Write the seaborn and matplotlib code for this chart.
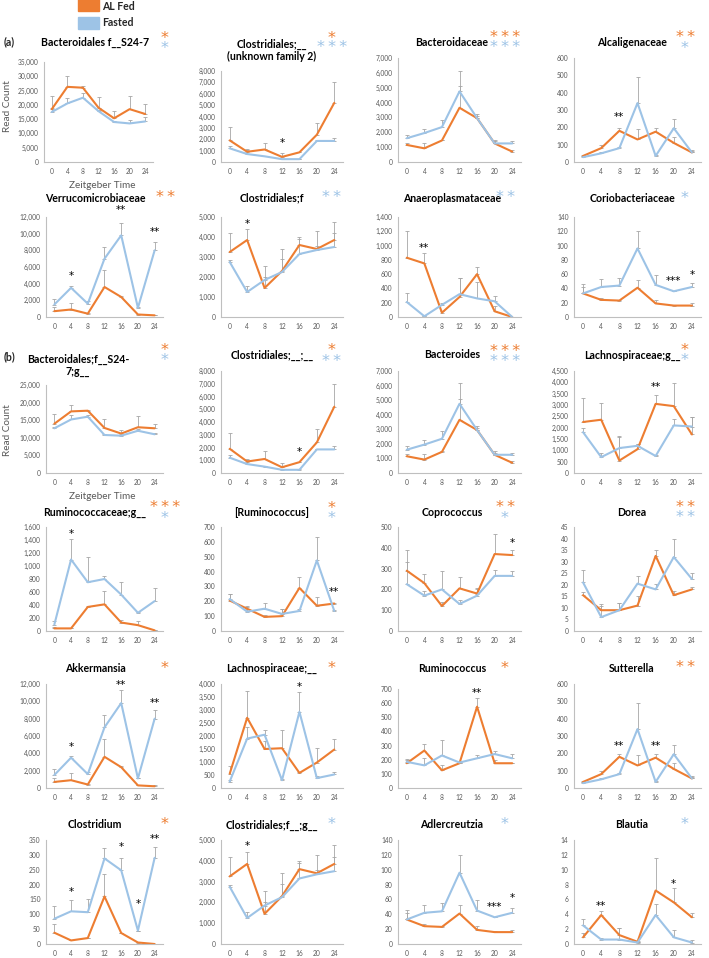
import matplotlib
matplotlib.use("Agg")
import matplotlib.pyplot as plt
from matplotlib.patches import Rectangle
from matplotlib.ticker import FuncFormatter
import pandas as pd
import seaborn as sns

ORANGE = "#ED7D31"
BLUE = "#9DC3E6"
GREY = "#A6A6A6"
TXT = "#595959"

hours = [0, 4, 8, 12, 16, 20, 24]
hour_labels = ["0", "4", "8", "12", "16", "20", "24"]

# Bacteroidales f__S24-7 (family)
s24f_al = [18500, 26300, 26000, 19000, 15300, 18500, 16800]
s24f_al_err = [4500, 3700, 700, 3800, 2700, 4500, 3400]
s24f_fa = [17500, 20500, 22500, 17800, 14000, 13500, 14200]
s24f_fa_err = [1500, 2000, 1800, 500, 300, 1300, 1600]

# Clostridiales unknown family (same as Clostridiales;__;__)
clun_al = [1900, 900, 1100, 450, 850, 2400, 5200]
clun_al_err = [1200, 200, 600, 300, 50, 1050, 1800]
clun_fa = [1200, 700, 500, 250, 250, 1850, 1850]
clun_fa_err = [200, 350, 50, 50, 50, 50, 250]

# Bacteroidaceae / Bacteroides
bac_al = [1150, 920, 1450, 3650, 2950, 1250, 700]
bac_al_err = [150, 380, 50, 1450, 150, 150, 100]
bac_fa = [1600, 1950, 2350, 4750, 2950, 1250, 1250]
bac_fa_err = [250, 300, 500, 1400, 300, 250, 150]

# Alcaligenaceae / Sutterella
alc_al = [35, 80, 180, 130, 175, 110, 55]
alc_al_err = [5, 20, 15, 60, 20, 35, 10]
alc_fa = [28, 50, 80, 340, 35, 195, 55]
alc_fa_err = [5, 5, 5, 150, 5, 55, 15]

# Verrucomicrobiaceae / Akkermansia
ver_al = [700, 900, 400, 3600, 2400, 300, 200]
ver_al_err = [500, 800, 100, 2000, 100, 100, 100]
ver_fa = [1500, 3500, 1600, 7000, 9800, 1100, 8000]
ver_fa_err = [700, 200, 300, 1400, 1500, 100, 1000]

# Clostridiales;f / Clostridiales;f__;g__
clf_al = [3250, 3850, 1450, 2300, 3600, 3400, 3850]
clf_al_err = [950, 550, 1100, 1100, 400, 900, 900]
clf_fa = [2750, 1250, 1850, 2250, 3150, 3350, 3500]
clf_fa_err = [100, 300, 150, 650, 750, 200, 700]

# Anaeroplasmataceae
ana_al = [830, 750, 60, 280, 600, 80, 0]
ana_al_err = [370, 140, 20, 270, 100, 70, 0]
ana_fa = [210, 10, 170, 320, 260, 220, 0]
ana_fa_err = [120, 10, 20, 230, 230, 80, 0]

# Coriobacteriaceae / Adlercreutzia
cor_al = [33, 24, 23, 41, 19, 16, 16]
cor_al_err = [9, 3, 1, 11, 5, 1, 3]
cor_fa = [33, 42, 44, 96, 45, 36, 42]
cor_fa_err = [13, 11, 11, 24, 14, 1, 6]

# Bacteroidales;f__S24-7;g__
s24g_al = [14000, 17500, 17700, 12800, 11200, 13000, 12700]
s24g_al_err = [2800, 1800, 300, 2500, 1000, 3300, 1100]
s24g_fa = [12700, 15200, 16000, 10800, 10600, 12000, 11000]
s24g_fa_err = [500, 1200, 500, 300, 300, 500, 400]

# Lachnospiraceae;g__
lag_al = [2250, 2350, 550, 1050, 3050, 2950, 1700]
lag_al_err = [1050, 750, 1100, 250, 400, 1000, 750]
lag_fa = [1800, 700, 1100, 1200, 750, 2100, 2050]
lag_fa_err = [200, 200, 500, 100, 50, 300, 400]

# Ruminococcaceae;g__
rcg_al = [40, 40, 370, 410, 130, 90, 10]
rcg_al_err = [20, 0, 20, 200, 40, 70, 10]
rcg_fa = [100, 1100, 750, 800, 560, 280, 460]
rcg_fa_err = [50, 320, 390, 40, 200, 20, 200]

# [Ruminococcus]
rub_al = [205, 150, 95, 100, 290, 170, 185]
rub_al_err = [45, 15, 10, 50, 75, 60, 5]
rub_fa = [215, 130, 150, 115, 135, 475, 135]
rub_fa_err = [35, 30, 40, 35, 15, 155, 5]

# Coprococcus
cop_al = [290, 230, 120, 205, 180, 370, 365]
cop_al_err = [100, 45, 20, 55, 25, 95, 25]
cop_fa = [225, 170, 200, 130, 170, 265, 265]
cop_fa_err = [105, 20, 90, 20, 30, 30, 25]

# Dorea
dor_al = [15.5, 9, 9, 11, 32.5, 15.5, 18]
dor_al_err = [1.5, 2.5, 3, 4, 2.5, 2, 1]
dor_fa = [21, 6, 9, 20.5, 18, 32, 22.5]
dor_fa_err = [5.5, 5, 3, 3.5, 2.5, 8, 2.5]

# Lachnospiraceae;__
lan_al = [550, 2700, 1500, 1530, 580, 980, 1480]
lan_al_err = [280, 1050, 300, 720, 50, 570, 420]
lan_fa = [250, 1900, 2050, 300, 2930, 380, 520]
lan_fa_err = [50, 450, 200, 50, 770, 100, 100]

# Ruminococcus
rum_al = [175, 265, 125, 175, 575, 175, 175]
rum_al_err = [25, 45, 35, 10, 60, 25, 5]
rum_fa = [185, 160, 230, 180, 210, 240, 210]
rum_fa_err = [20, 55, 110, 10, 20, 20, 30]

# Clostridium
cld_al = [38, 12, 20, 160, 37, 5, 0]
cld_al_err = [30, 0, 0, 77, 0, 3, 0]
cld_fa = [85, 110, 107, 288, 248, 45, 290]
cld_fa_err = [43, 38, 45, 35, 42, 0, 38]

# Blautia
bla_al = [0.9, 3.9, 1.2, 0.3, 7.2, 5.6, 3.6]
bla_al_err = [0.6, 0.5, 0.9, 0.1, 4.4, 1.9, 0.6]
bla_fa = [2.5, 0.6, 0.6, 0.2, 3.9, 0.9, 0.2]
bla_fa_err = [0.8, 0.2, 1.5, 0.1, 1.5, 1.0, 0.3]

titles = [
    "Bacteroidales f__S24-7", "Clostridiales;__\n(unknown family 2)", "Bacteroidaceae", "Alcaligenaceae",
    "Verrucomicrobiaceae", "Clostridiales;f", "Anaeroplasmataceae", "Coriobacteriaceae",
    "Bacteroidales;f__S24-\n7;g__", "Clostridiales;__;__", "Bacteroides", "Lachnospiraceae;g__",
    "Ruminococcaceae;g__", "[Ruminococcus]", "Coprococcus", "Dorea",
    "Akkermansia", "Lachnospiraceae;__", "Ruminococcus", "Sutterella",
    "Clostridium", "Clostridiales;f__;g__", "Adlercreutzia", "Blautia",
]
series = [
    (s24f_al, s24f_al_err, s24f_fa, s24f_fa_err), (clun_al, clun_al_err, clun_fa, clun_fa_err),
    (bac_al, bac_al_err, bac_fa, bac_fa_err), (alc_al, alc_al_err, alc_fa, alc_fa_err),
    (ver_al, ver_al_err, ver_fa, ver_fa_err), (clf_al, clf_al_err, clf_fa, clf_fa_err),
    (ana_al, ana_al_err, ana_fa, ana_fa_err), (cor_al, cor_al_err, cor_fa, cor_fa_err),
    (s24g_al, s24g_al_err, s24g_fa, s24g_fa_err), (clun_al, clun_al_err, clun_fa, clun_fa_err),
    (bac_al, bac_al_err, bac_fa, bac_fa_err), (lag_al, lag_al_err, lag_fa, lag_fa_err),
    (rcg_al, rcg_al_err, rcg_fa, rcg_fa_err), (rub_al, rub_al_err, rub_fa, rub_fa_err),
    (cop_al, cop_al_err, cop_fa, cop_fa_err), (dor_al, dor_al_err, dor_fa, dor_fa_err),
    (ver_al, ver_al_err, ver_fa, ver_fa_err), (lan_al, lan_al_err, lan_fa, lan_fa_err),
    (rum_al, rum_al_err, rum_fa, rum_fa_err), (alc_al, alc_al_err, alc_fa, alc_fa_err),
    (cld_al, cld_al_err, cld_fa, cld_fa_err), (clf_al, clf_al_err, clf_fa, clf_fa_err),
    (cor_al, cor_al_err, cor_fa, cor_fa_err), (bla_al, bla_al_err, bla_fa, bla_fa_err),
]
y_max = [35000, 8000, 7000, 600, 12000, 5000, 1400, 140,
         25000, 8000, 7000, 4500, 1600, 700, 500, 45,
         12000, 4000, 700, 600, 350, 5000, 140, 14]
y_step = [5000, 1000, 1000, 100, 2000, 1000, 200, 20,
          5000, 1000, 1000, 500, 200, 100, 100, 5,
          2000, 500, 100, 100, 50, 1000, 20, 2]
# significance asterisks beside titles: (orange count, blue count)
title_stars = [(1, 1), (1, 3), (3, 3), (2, 1), (2, 0), (0, 2), (0, 2), (0, 1),
               (1, 1), (1, 2), (3, 3), (1, 1), (3, 1), (1, 1), (2, 1), (2, 2),
               (1, 0), (1, 0), (1, 0), (2, 0), (1, 0), (0, 1), (0, 1), (0, 1)]
# point asterisks: (hour, value, text)
point_marks = [
    [], [(12, 1700, "*")], [], [(8, 262, "**")],
    [(4, 4875, "*"), (16, 12875, "**"), (24, 10250, "**")], [(4, 4660, "*")],
    [(4, 970, "**")], [(20, 51, "***"), (24, 59, "*")],
    [], [(16, 1650, "*")], [], [(16, 3790, "**")],
    [(4, 1490, "*")], [(24, 262, "**")], [(24, 423, "*")], [],
    [(4, 4730, "*"), (16, 11900, "**"), (24, 9800, "**")], [(16, 3900, "*")],
    [(16, 672, "**")], [(8, 242, "**"), (16, 242, "**")],
    [(4, 175, "*"), (16, 326, "*"), (20, 135, "*"), (24, 353, "**")], [(4, 4700, "*")],
    [(20, 50, "***"), (24, 62, "*")], [(4, 5.1, "**"), (20, 8.1, "*")],
]

sns.set_style("white")
plt.rcParams["font.family"] = ["Lato", "DejaVu Sans"]

W, H = 709, 958
fig = plt.figure(figsize=(W / 100, H / 100), dpi=100)


def fx(x):
    return x / W


def fy(y):
    return 1 - y / H


def stars(n):
    return "\u2009".join(["*"] * n)


row_top = [58, 217, 371, 527, 684, 840]
row_bot = [162, 317, 473, 631, 788, 944]
title_y = [42, 198, 355, 512, 668, 825]
col_span = [(46, 163), (221, 343), (398, 521), (574, 701)]
title_x = [95, 272, 452, 632]
star_x = [165, 332, 505, 685]
top_override = {0: 62, 1: 71, 8: 385, 18: 689}
span_override = {0: (44, 153)}
title_pos_override = {1: (272, 50), 8: (78, 365)}

comma = FuncFormatter(lambda v, p: f"{v:,.0f}")

for i in range(24):
    r, c = divmod(i, 4)
    top = top_override.get(i, row_top[r])
    bot = row_bot[r]
    x0, x1 = span_override.get(i, col_span[c])
    ax = fig.add_axes([fx(x0), fy(bot), (x1 - x0) / W, (bot - top) / H])
    al, al_err, fa, fa_err = series[i]

    ax.errorbar(hours, al, yerr=[[0] * 7, al_err], fmt="none", ecolor=GREY,
                elinewidth=0.6, capsize=1.3, capthick=0.6, zorder=1)
    ax.errorbar(hours, fa, yerr=[[0] * 7, fa_err], fmt="none", ecolor=GREY,
                elinewidth=0.6, capsize=1.3, capthick=0.6, zorder=1)
    df = pd.DataFrame({"hour": hours * 2, "count": al + fa,
                       "group": ["AL Fed"] * 7 + ["Fasted"] * 7})
    sns.lineplot(data=df, x="hour", y="count", hue="group", palette=[ORANGE, BLUE],
                 linewidth=1.5, legend=False, ax=ax, zorder=2)

    ax.set_xlim(-2, 26)
    ax.set_ylim(0, y_max[i])
    ax.set_xticks(hours)
    ax.set_xticklabels(hour_labels)
    ax.set_yticks([k * y_step[i] for k in range(int(round(y_max[i] / y_step[i])) + 1)])
    ax.yaxis.set_major_formatter(comma)
    ax.set_xlabel("")
    ax.set_ylabel("")
    ax.tick_params(length=0, labelsize=4.8, colors=TXT)
    ax.tick_params(axis="y", pad=4)
    ax.tick_params(axis="x", pad=4)
    for s in ["top", "right"]:
        ax.spines[s].set_visible(False)
    for s in ["left", "bottom"]:
        ax.spines[s].set_color("#BFBFBF")
        ax.spines[s].set_linewidth(0.8)
    ax.patch.set_alpha(0)

    for h, v, t in point_marks[i]:
        ax.text(h, v, t, ha="center", va="center", fontsize=7.5, color="black",
                family="DejaVu Sans", clip_on=False)

    tx, ty = title_pos_override.get(i, (title_x[c], title_y[r]))
    fig.text(fx(tx), fy(ty), titles[i], ha="center", va="center", fontsize=7.6,
             fontweight="bold", color="black", linespacing=1.1)

    n_o, n_b = title_stars[i]
    sy = title_y[r]
    if n_o and n_b:
        fig.text(fx(star_x[c]), fy(sy - 4), stars(n_o), ha="center", va="center",
                 fontsize=11.5, color=ORANGE, family="DejaVu Sans")
        fig.text(fx(star_x[c]), fy(sy + 6), stars(n_b), ha="center", va="center",
                 fontsize=11.5, color=BLUE, family="DejaVu Sans")
    elif n_o:
        fig.text(fx(star_x[c]), fy(sy), stars(n_o), ha="center", va="center",
                 fontsize=11.5, color=ORANGE, family="DejaVu Sans")
    elif n_b:
        fig.text(fx(star_x[c]), fy(sy), stars(n_b), ha="center", va="center",
                 fontsize=11.5, color=BLUE, family="DejaVu Sans")

# axis labels on the first panel of each section
for yl, xl in [(106, 185), (430, 497)]:
    fig.text(fx(8), fy(yl), "Read Count", rotation=90, ha="center", va="center",
             fontsize=7.2, color=TXT)
    fig.text(fx(102), fy(xl), "Zeitgeber Time", ha="center", va="center",
             fontsize=7.2, color=TXT)

fig.text(fx(4), fy(42), "(a)", ha="left", va="center", fontsize=7.6, fontweight="bold")
fig.text(fx(4), fy(357), "(b)", ha="left", va="center", fontsize=7.6, fontweight="bold")

# legend
fig.patches.append(Rectangle((fx(78), fy(11)), 21 / W, 12 / H, color=ORANGE,
                             transform=fig.transFigure, figure=fig))
fig.patches.append(Rectangle((fx(78), fy(29)), 21 / W, 12 / H, color=BLUE,
                             transform=fig.transFigure, figure=fig))
fig.text(fx(102), fy(6), "AL Fed", ha="left", va="center", fontsize=7.6, fontweight="bold")
fig.text(fx(102), fy(23), "Fasted", ha="left", va="center", fontsize=7.6, fontweight="bold")

fig.savefig("out.png", dpi=100)
